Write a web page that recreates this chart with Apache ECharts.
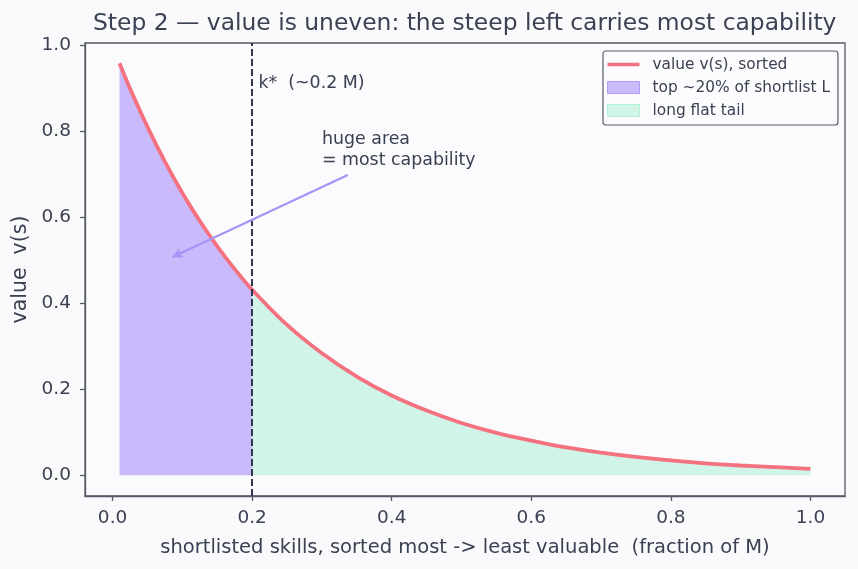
<!DOCTYPE html>
<html>
<head>
<meta charset="utf-8">
<script src="https://cdn.jsdelivr.net/npm/echarts@6/dist/echarts.min.js"></script>
<style>
  html, body { margin: 0; padding: 0; background: #fafafd; }
  #chart { width: 858px; height: 569px; }
</style>
</head>
<body>
<div id="chart"></div>
<script>
// fraction of M (sorted most -> least valuable) and value
var fracs = [0.01, 0.025, 0.05, 0.075, 0.10, 0.125, 0.15, 0.175, 0.20, 0.25, 0.30, 0.35, 0.40, 0.45, 0.50,
             0.55, 0.60, 0.65, 0.70, 0.75, 0.80, 0.85, 0.90, 0.95, 1.00];
var values = [0.959, 0.900, 0.811, 0.730, 0.657, 0.592, 0.533, 0.480, 0.432, 0.350, 0.284, 0.230, 0.186, 0.151, 0.122,
              0.099, 0.081, 0.065, 0.053, 0.043, 0.035, 0.028, 0.023, 0.019, 0.015];
var kStar = 0.2;
var xTicks = [0, 0.2, 0.4, 0.6, 0.8, 1.0];
var yTicks = [0, 0.2, 0.4, 0.6, 0.8, 1.0];
var arrowFrom = [0.337, 0.699];
var arrowTo = [0.086, 0.508];

var names = ['value v(s), sorted', 'top ~20% of shortlist L', 'long flat tail'];

var textColor = '#3a4152';
var spineColor = '#555a68';
var font = 'DejaVu Sans';

var curve = fracs.map(function(x, i){ return [x, values[i]]; });
var head = curve.filter(function(p){ return p[0] <= kStar; });
var tail = curve.filter(function(p){ return p[0] >= kStar; });

var chart = echarts.init(document.getElementById('chart'));
chart.setOption({
    backgroundColor: '#fafafd',
    animation: false,
    textStyle: {fontFamily: font},
    title: {
        text: 'Step 2 \u2014 value is uneven: the steep left carries most capability',
        left: 93, top: 12, padding: 0,
        textStyle: {fontFamily: font, fontSize: 23.4, fontWeight: 'normal', color: textColor}
    },
    grid: {
        left: 85, right: 13, top: 43, bottom: 73,
        show: true, borderColor: spineColor, borderWidth: 1.3, backgroundColor: '#fbfbfe'
    },
    legend: {
        orient: 'vertical', left: 603, top: 51, align: 'left',
        padding: [6, 8, 7, 4], itemGap: 8, itemWidth: 32, itemHeight: 12,
        borderColor: spineColor, borderWidth: 1.2, borderRadius: 3, backgroundColor: '#fcfcfe',
        textStyle: {fontFamily: font, fontSize: 15.4, color: textColor, padding: [0, 0, 0, 8]},
        data: [
            {name: names[0], icon: 'path://M0,0 L32,0 L32,3.5 L0,3.5 Z'},
            {name: names[1], icon: 'rect', itemStyle: {borderColor: 'rgba(167,139,250,0.8)', borderWidth: 1}},
            {name: names[2], icon: 'rect', itemStyle: {borderColor: 'rgba(110,231,183,0.45)', borderWidth: 1}}
        ]
    },
    xAxis: {
        type: 'value', min: -0.0395, max: 1.0495,
        name: 'shortlisted skills, sorted most -> least valuable  (fraction of M)',
        nameLocation: 'middle', nameGap: 42,
        nameTextStyle: {fontFamily: font, fontSize: 19.5, color: textColor},
        splitLine: {show: false},
        axisLine: {show: true, onZero: false, lineStyle: {color: spineColor, width: 1.3}},
        axisTick: {show: true, length: 5, customValues: xTicks, lineStyle: {color: spineColor, width: 1.3}},
        axisLabel: {customValues: xTicks, margin: 13, fontSize: 18.5, color: textColor,
                    formatter: function(v){ return v.toFixed(1); }}
    },
    yAxis: {
        type: 'value', min: -0.048, max: 1.006,
        name: 'value  v(s)',
        nameLocation: 'middle', nameGap: 52,
        nameTextStyle: {fontFamily: font, fontSize: 20.5, color: textColor},
        splitLine: {show: false},
        axisLine: {show: true, onZero: false, lineStyle: {color: spineColor, width: 1.3}},
        axisTick: {show: true, length: 5, customValues: yTicks, lineStyle: {color: spineColor, width: 1.3}},
        axisLabel: {customValues: yTicks, margin: 14, fontSize: 18.5, color: textColor,
                    formatter: function(v){ return v.toFixed(1); }}
    },
    series: [
        {
            name: names[1], type: 'line', data: head, smooth: 0.3,
            symbol: 'none', lineStyle: {width: 0}, z: 2,
            itemStyle: {color: 'rgba(167,139,250,0.58)'},
            areaStyle: {color: 'rgba(167,139,250,0.58)', opacity: 1, origin: 0}
        },
        {
            name: names[2], type: 'line', data: tail, smooth: 0.3,
            symbol: 'none', lineStyle: {width: 0}, z: 2,
            itemStyle: {color: 'rgba(110,231,183,0.3)'},
            areaStyle: {color: 'rgba(110,231,183,0.3)', opacity: 1, origin: 0}
        },
        {
            name: names[0], type: 'line', data: curve, smooth: 0.3,
            symbol: 'none', z: 4,
            itemStyle: {color: '#f4717f'},
            lineStyle: {color: '#f4717f', width: 3.8},
            markLine: {
                silent: true, symbol: 'none', animation: false,
                label: {show: false},
                data: [
                    {xAxis: kStar, lineStyle: {color: '#2b2f45', width: 1.9, type: [7, 3]}},
                    [
                        {coord: arrowFrom, symbol: 'none', lineStyle: {color: '#a594f5', width: 2.2, type: 'solid'}},
                        {coord: arrowTo, symbol: 'arrow', symbolSize: [8, 10]}
                    ]
                ]
            }
        }
    ]
});

// annotations anchored in data coordinates
var kPos = chart.convertToPixel({gridIndex: 0}, [0.209, 0.911]);
var notePos = chart.convertToPixel({gridIndex: 0}, [0.30, 0.805]);
chart.setOption({
    graphic: [
        {type: 'text', x: kPos[0], y: kPos[1], z: 10,
         style: {text: 'k*  (~0.2 M)', fill: textColor, font: '17.4px "DejaVu Sans"', verticalAlign: 'middle'}},
        {type: 'text', x: notePos[0], y: notePos[1], z: 10,
         style: {text: 'huge area\n= most capability', fill: textColor, font: '17.4px "DejaVu Sans"',
                 lineHeight: 21, verticalAlign: 'top'}}
    ]
});
</script>
</body>
</html>
